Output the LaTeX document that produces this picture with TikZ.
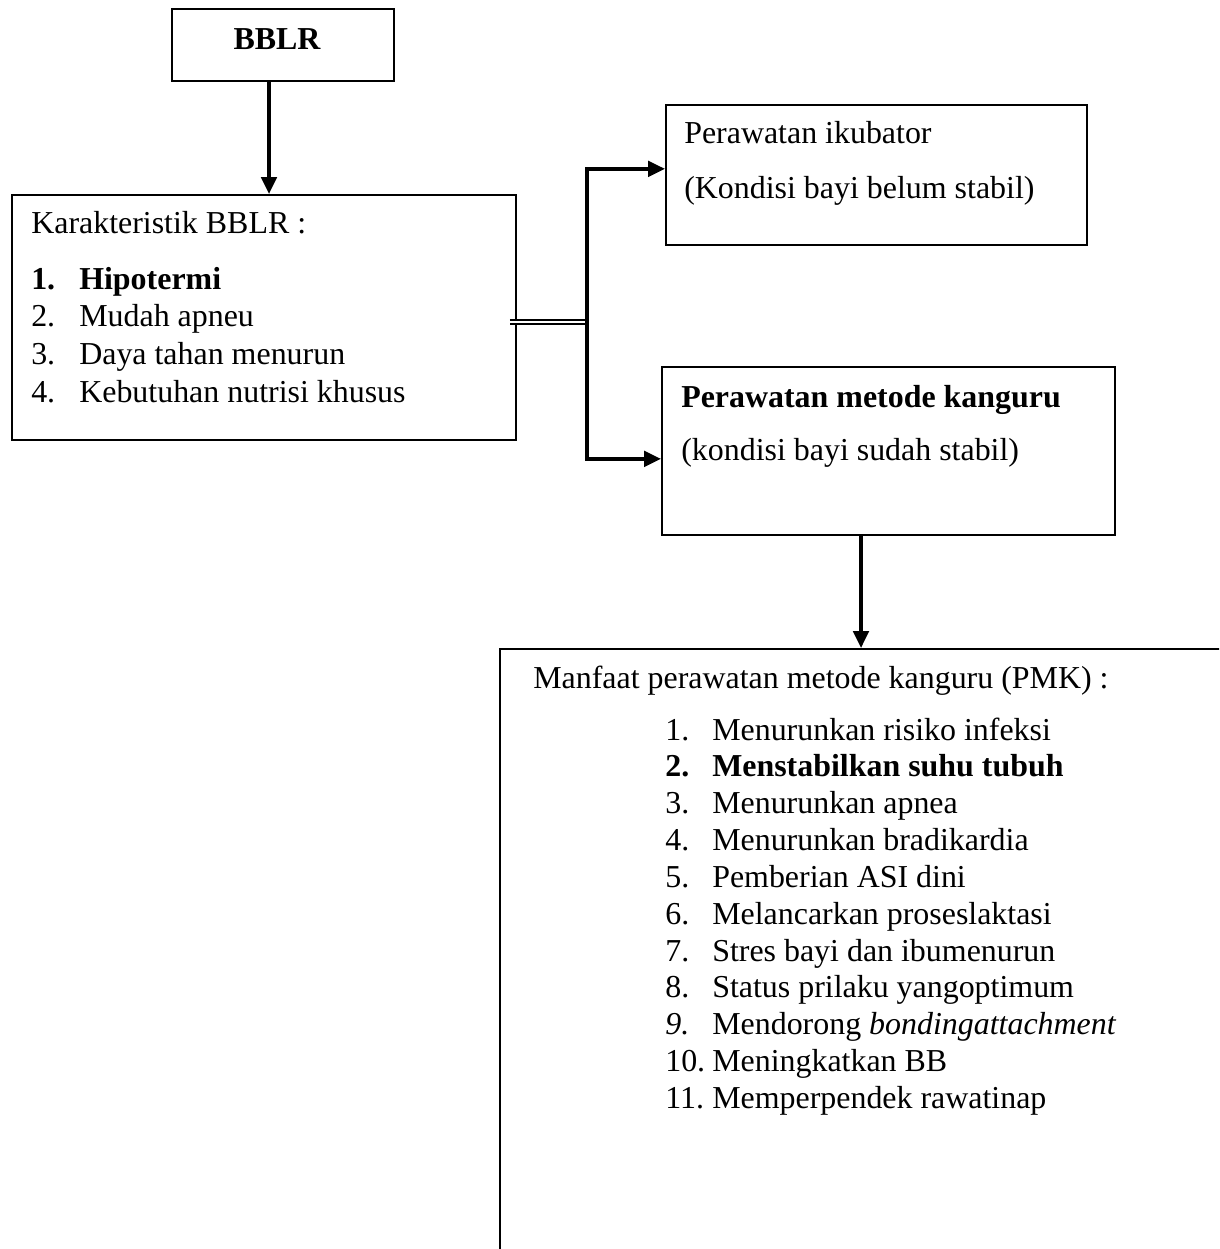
\documentclass[tikz,border=0pt]{standalone}
\usepackage{fontspec}
\setmainfont{Liberation Serif}
\usetikzlibrary{arrows.meta}
\newcommand{\bodyfont}{\fontsize{22.7}{26.8}\selectfont}
\newcommand{\listfont}{\fontsize{22.7}{26.2}\selectfont}

\begin{document}
\begin{tikzpicture}[
    x=0.025cm, y=-0.025cm,
    block/.style={rectangle, draw, line width=1.2pt, anchor=north west, inner sep=0pt},
    txt/.style={anchor=base west, inner sep=0pt, font=\bodyfont},
    link/.style={line width=2.4pt},
    >={Triangle[length=12pt, width=11pt]}
]
\useasboundingbox (0,0) rectangle (1219,1249);
\fill[white] (0,0) rectangle (1219,1249);
\clip (0,0) rectangle (1219,1249);

\node[block, minimum width=5.55cm, minimum height=1.8cm] (bblr) at (171,8) {};
\node[txt, anchor=base, font=\bodyfont\bfseries] (bblrtxt) at (277,49) {BBLR};

\node[block, minimum width=12.6cm, minimum height=6.125cm] (karak) at (11,194) {};
\node[txt] (karaktitle) at (31,233) {Karakteristik BBLR :};
\node[txt] (karaklist) at (31,289) {\begin{tabular}[t]{@{}p{1.2cm}@{}l@{}}
    \textbf{1.} & \textbf{Hipotermi}\\
    2. & Mudah apneu\\
    3. & Daya tahan menurun\\
    4. & Kebutuhan nutrisi khusus
\end{tabular}};

\node[block, minimum width=10.525cm, minimum height=3.5cm] (ikub) at (665,104) {};
\node[txt] (ikubtitle) at (684,143) {Perawatan ikubator};
\node[txt] (ikubnote) at (684,198) {(Kondisi bayi belum stabil)};

\node[block, minimum width=11.325cm, minimum height=4.2cm] (kang) at (661,366) {};
\node[txt, font=\bodyfont\bfseries] (kangtitle) at (681,407) {Perawatan metode kanguru};
\node[txt] (kangnote) at (681,460) {(kondisi bayi sudah stabil)};

\node[block, minimum width=19cm, minimum height=16.25cm] (manf) at (499,648) {};
\node[txt] (manftitle) at (533,688) {Manfaat perawatan metode kanguru (PMK) :};
\node[txt, font=\listfont] (manflist) at (665,740) {\begin{tabular}[t]{@{}p{1.175cm}@{}l@{}}
    1. & Menurunkan risiko infeksi\\
    \textbf{2.} & \textbf{Menstabilkan suhu tubuh}\\
    3. & Menurunkan apnea\\
    4. & Menurunkan bradikardia\\
    5. & Pemberian ASI dini\\
    6. & Melancarkan proseslaktasi\\
    7. & Stres bayi dan ibumenurun\\
    8. & Status prilaku yangoptimum\\
    \textit{9.} & Mendorong \textit{bondingattachment}\\
    10. & Meningkatkan BB\\
    11. & Memperpendek rawatinap
\end{tabular}};

% connectors
\coordinate (drop) at (269,0);
\coordinate (split) at (587,322);
\coordinate (kdrop) at (861,0);
\draw[link, ->] (bblr.south -| drop) -- (karak.north -| drop);
\draw[double, line width=1.4pt, double distance=1.5pt] ([xshift=-0.175cm]karak.east |- split) -- (split);
\draw[link, ->] (split) |- ([yshift=0.15cm]ikub.west);
\draw[link, ->] (split) |- ([yshift=-0.2cm]kang.west);
\draw[link, ->] (kang.south -| kdrop) -- (manf.north -| kdrop);
\end{tikzpicture}
\end{document}
